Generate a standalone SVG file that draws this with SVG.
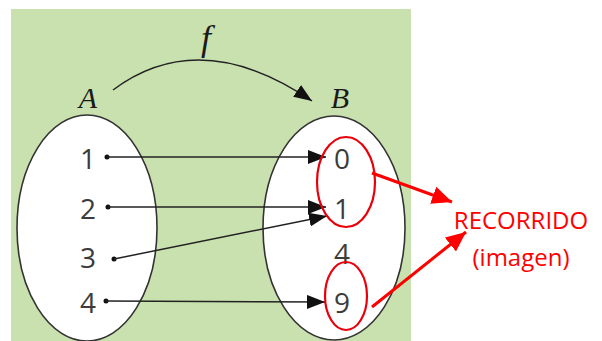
<svg xmlns="http://www.w3.org/2000/svg" width="602" height="341" viewBox="0 0 602 341">
<defs>
<style>
.set{fill:#fff;stroke:#333;stroke-width:1.6}
.num{font-family:"Open Sans","Liberation Sans",sans-serif;font-size:28px;fill:#3c3c3c;text-anchor:middle}
.lbl{font-family:"Liberation Serif",serif;font-style:italic;font-size:30px;fill:#1a1a1a;text-anchor:middle}
.map{stroke:#222;stroke-width:1.5;fill:none;marker-end:url(#ah)}
.dot{fill:#111}
.red{fill:none;stroke:#e8000b;stroke-width:2.2}
.redarr{stroke:#ff0000;stroke-width:3;fill:none;marker-end:url(#rh)}
.rtxt{font-family:"Open Sans","Liberation Sans",sans-serif;font-size:24px;fill:#ff0000;text-anchor:middle}
</style>
<marker id="ah" markerUnits="userSpaceOnUse" viewBox="0 0 18 14" refX="18" refY="7" markerWidth="18" markerHeight="14" orient="auto">
<path d="M0,0 L18,7 L0,14 Z" fill="#111"/>
</marker>
<marker id="rh" markerUnits="userSpaceOnUse" viewBox="0 0 20 18" refX="20" refY="9" markerWidth="20" markerHeight="18" orient="auto">
<path d="M0,0 L20,9 L0,18 Z" fill="#ff0000"/>
</marker>
</defs>
<rect x="11" y="9" width="400" height="332" fill="#c9e1af"/>
<g id="setA">
<ellipse class="set" cx="87" cy="228" rx="70" ry="113"/>
<text class="lbl" x="88" y="108">A</text>
<text class="num" x="88" y="169">1</text>
<text class="num" x="88" y="219">2</text>
<text class="num" x="88" y="268">3</text>
<text class="num" x="88" y="313">4</text>
</g>
<g id="setB">
<ellipse class="set" cx="334" cy="228" rx="71" ry="112"/>
<text class="lbl" x="340" y="108">B</text>
<text class="num" x="342" y="169">0</text>
<text class="num" x="342" y="219">1</text>
<text class="num" x="342" y="264">4</text>
<text class="num" x="342" y="313">9</text>
</g>
<g id="function-label">
<text class="lbl" x="206" y="50" style="font-size:36px">f</text>
</g>
<g id="connectors">
<path class="map" d="M113,90 Q200,25 312,101"/>
<circle class="dot" cx="107" cy="157" r="2.5"/>
<circle class="dot" cx="108" cy="207" r="2.5"/>
<circle class="dot" cx="114" cy="259" r="2.5"/>
<circle class="dot" cx="106" cy="301" r="2.5"/>
<line class="map" x1="107" y1="157" x2="326" y2="157"/>
<line class="map" x1="108" y1="207" x2="326" y2="207"/>
<line class="map" x1="114" y1="259" x2="327" y2="216"/>
<line class="map" x1="106" y1="301" x2="325" y2="302"/>
</g>
<g id="range-highlight">
<ellipse class="red" cx="346" cy="182" rx="29" ry="45"/>
<ellipse class="red" cx="346" cy="296" rx="21" ry="34"/>
<line class="redarr" x1="372" y1="173" x2="452" y2="202"/>
<line class="redarr" x1="372" y1="307" x2="466" y2="232"/>
</g>
<g id="range-label">
<text class="rtxt" x="521" y="229">RECORRIDO</text>
<text class="rtxt" x="521" y="266">(imagen)</text>
</g>
</svg>
